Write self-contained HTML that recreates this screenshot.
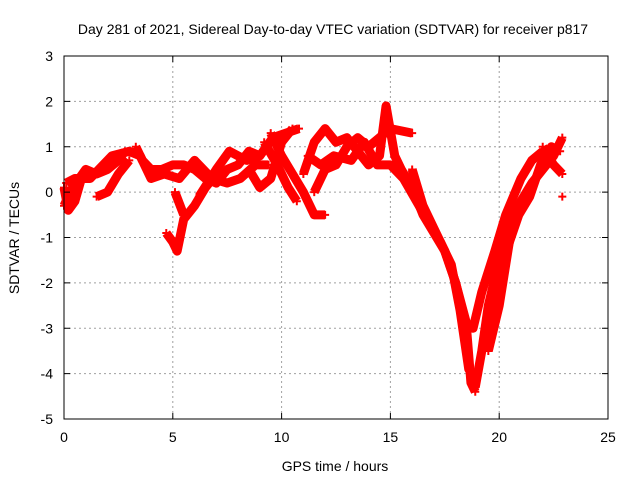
<!DOCTYPE html>
<html><head><meta charset="utf-8"><style>
body{margin:0;background:#fff;}
svg{display:block;font-family:"Liberation Sans",sans-serif;}
</style></head><body>
<svg id="chart" width="640" height="480">
<rect width="640" height="480" fill="#fff"/>
<g id="grid"></g>
<g id="marks"></g>
<rect x="64" y="56" width="544" height="363" fill="none" stroke="#000" stroke-width="1"/>
<g id="ticks"></g>
<text x="333" y="34" text-anchor="middle" font-size="14">Day 281 of 2021, Sidereal Day-to-day VTEC variation (SDTVAR) for receiver p817</text>
<text x="335" y="471" text-anchor="middle" font-size="14">GPS time / hours</text>
<text transform="translate(19,238) rotate(-90)" text-anchor="middle" font-size="14">SDTVAR / TECUs</text>
</svg>
<script>
const xTicks=[0,5,10,15,20,25];
const yTicks=[3,2,1,0,-1,-2,-3,-4,-5];
const s1=[[0,-0.3],[0.3,0],[0.7,0.3],[1.0,0.5],[1.5,0.4],[2.0,0.5],[2.5,0.7],[2.8,0.9]];
const s2=[[0,0.1],[0.2,-0.4],[0.5,-0.2],[0.8,0.3]];
const s3=[[1.5,-0.1],[2.0,0.0],[2.5,0.4],[3.0,0.7]];
const s4=[[3.3,1.0],[3.6,0.7],[4,0.5],[4.5,0.5],[5,0.6],[5.5,0.6],[6,0.5],[6.5,0.3],[7,0.2],[7.5,0.5],[8,0.6],[8.5,0.9],[9,0.8]];
const s5=[[4.7,-0.9],[5.0,-1.1],[5.2,-1.3],[5.5,-0.6],[6,-0.3],[6.5,0.1],[7,0.4]];
const s6=[[5.1,0.0],[5.5,-0.5]];
const s7=[[8.5,0.5],[9,0.1],[9.5,0.3],[10,1.1],[10.5,1.4]];
const s8=[[9.5,1.3],[10,0.8],[10.5,0.4],[11,0.0],[11.5,-0.5],[12,-0.5]];
const s9=[[9.2,1.1],[9.8,0.6],[10.3,0.1],[10.7,-0.2]];
const s10=[[11,0.4],[11.5,1.1],[12,1.4],[12.5,1.1],[13,1.2],[13.5,0.9],[14,0.6],[14.5,0.8],[14.8,1.9],[15.2,0.8],[15.5,0.5],[16,0.1],[16.5,-0.5],[17,-0.9],[17.5,-1.3],[18,-2.0],[18.5,-3.0],[18.7,-4.2],[18.9,-4.4]];
const s11=[[11.5,0.0],[12,0.5],[12.5,0.6],[13,1.0],[13.5,1.2],[14,1.0],[15,1.4],[16,1.3]];
const s12=[[16,0.5],[16.5,-0.3],[17,-0.8],[17.5,-1.3],[18,-2.0],[18.5,-2.9],[18.8,-3.0],[19.2,-2.2],[19.8,-1.3],[20.3,-0.5],[21,0.3],[21.5,0.7],[22,0.9]];
const s13=[[18.9,-4.3],[19.2,-3.5],[19.5,-2.5],[20,-1.5],[20.5,-0.7],[21,-0.2],[21.5,0.2],[22,0.5],[22.5,0.8],[22.9,1.2]];
const s14=[[19.5,-3.5],[20,-2.5],[20.5,-1.0],[21,-0.3],[21.5,0.1]];
const s15=[[22,1.0],[22.5,0.6],[22.9,0.4]];
const s16=[[22.9,-0.1]];
const s17=[[0.1,0.2],[0.5,0.3],[1.2,0.3],[2.2,0.8],[3.0,0.9],[3.5,0.8],[4.0,0.3],[4.6,0.4],[5.3,0.3],[6.0,0.7],[6.8,0.3],[7.5,0.2],[8.1,0.3],[8.8,0.6],[9.4,0.6]];
const s18=[[6.2,-0.1],[7.0,0.5],[7.6,0.9],[8.0,0.8],[8.4,0.7],[9.0,0.8],[9.6,1.2],[10.2,1.3],[10.8,1.4]];
const s19=[[11.2,0.8],[11.8,0.6],[12.4,0.8],[13.2,0.7],[13.8,1.1],[14.4,0.6],[15.0,0.6],[15.6,0.3],[16.2,-0.2],[16.8,-0.7],[17.3,-1.1],[17.8,-1.6],[18.2,-2.6],[18.6,-3.9],[18.9,-4.1]];
const s20=[[19.4,-3.2],[19.9,-2.0],[20.4,-1.2],[20.9,-0.5],[21.4,-0.1],[21.9,0.6],[22.4,1.0],[22.8,0.9]];
const series=[s1,s2,s3,s4,s5,s6,s7,s8,s9,s10,s11,s12,s13,s14,s15,s16,s17,s18,s19,s20];
const X=t=>64+t*544/25, Y=v=>56+(3-v)*363/8;
const NS='http://www.w3.org/2000/svg';
const grid=document.getElementById('grid'),ticks=document.getElementById('ticks'),marks=document.getElementById('marks');
function mk(tag,attrs,parent){const e=document.createElementNS(NS,tag);for(const k in attrs)e.setAttribute(k,attrs[k]);parent.appendChild(e);return e;}
xTicks.forEach(t=>{
 if(t>0&&t<25){const g=mk('line',{x1:X(t),x2:X(t),y1:56,y2:419,stroke:'#a0a0a0','stroke-dasharray':'2,3'},grid);
 
 }
 mk('line',{x1:X(t),x2:X(t),y1:419,y2:413,stroke:'#000'},ticks);
 mk('line',{x1:X(t),x2:X(t),y1:56,y2:62,stroke:'#000'},ticks);
 const l=mk('text',{x:X(t),y:442,'text-anchor':'middle','font-size':14},ticks);l.textContent=t;
 
 
});
yTicks.forEach(v=>{
 if(v<3&&v>-5){const g=mk('line',{x1:64,x2:608,y1:Y(v),y2:Y(v),stroke:'#a0a0a0','stroke-dasharray':'2,3'},grid);
 
 }
 mk('line',{x1:64,x2:70,y1:Y(v),y2:Y(v),stroke:'#000'},ticks);
 mk('line',{x1:608,x2:602,y1:Y(v),y2:Y(v),stroke:'#000'},ticks);
 const l=mk('text',{x:53,y:Y(v)+5,'text-anchor':'end','font-size':14},ticks);l.textContent=v;
 
 
});
series.forEach((s,i)=>{
 if(s.length>1){const p=mk('polyline',{points:s.map(d=>X(d[0])+','+Y(d[1])).join(' '),fill:'none',stroke:'#ff0000','stroke-width':9,'stroke-linejoin':'round'},marks);
 
 }
 s.forEach(d=>{const x=X(d[0]),y=Y(d[1]);
  const m=mk('path',{d:`M${x-4},${y}H${x+4}M${x},${y-4}V${y+4}`,stroke:'#ff0000','stroke-width':2},marks);
  
  });
});
</script>
</body></html>
